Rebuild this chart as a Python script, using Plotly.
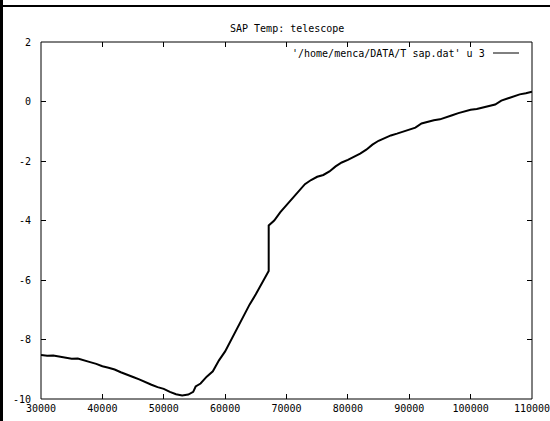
import plotly.graph_objects as go

# Telescope temperature samples: column 1 (time) vs column 3 (temperature)
time_s = [
    30000, 31000, 32000, 33000, 34000, 35000, 36000, 37000, 38000, 39000,
    40000, 41000, 42000, 43000, 44000, 45000, 46000, 47000, 48000, 49000,
    50000, 51000, 52000, 53000, 54000, 54800, 55200, 56000, 57000, 58000,
    59000, 60000, 61000, 62000, 63000, 64000, 65000, 66000, 67100, 67100,
    68000, 69000, 70000, 71000, 72000, 73000, 74000, 75000, 76000, 77000,
    78000, 79000, 80000, 81000, 82000, 83000, 84000, 85000, 86000, 87000,
    88000, 89000, 90000, 91000, 92000, 93000, 94000, 95000, 96000, 97000,
    98000, 99000, 100000, 101000, 102000, 103000, 104000, 105000, 106000,
    107000, 108000, 109000, 110000,
]
temp_c = [
    -8.52, -8.55, -8.54, -8.58, -8.62, -8.65, -8.64, -8.71, -8.76, -8.82,
    -8.90, -8.95, -9.01, -9.10, -9.17, -9.26, -9.34, -9.44, -9.52, -9.60,
    -9.66, -9.76, -9.84, -9.88, -9.85, -9.76, -9.58, -9.48, -9.25, -9.07,
    -8.70, -8.40, -8.00, -7.62, -7.20, -6.82, -6.48, -6.12, -5.70, -4.17,
    -4.00, -3.72, -3.48, -3.26, -3.00, -2.78, -2.64, -2.53, -2.47, -2.35,
    -2.18, -2.05, -1.96, -1.86, -1.75, -1.62, -1.45, -1.32, -1.22, -1.14,
    -1.08, -1.02, -0.95, -0.88, -0.74, -0.68, -0.63, -0.60, -0.54, -0.46,
    -0.39, -0.33, -0.28, -0.25, -0.20, -0.16, -0.10, 0.03, 0.10,
    0.18, 0.24, 0.28, 0.33,
]

x_ticks = [30000, 40000, 50000, 60000, 70000, 80000, 90000, 100000, 110000]
y_ticks = [-10, -8, -6, -4, -2, 0, 2]

title_text = "SAP Temp: telescope"
key_text = "'/home/menca/DATA/T sap.dat' u 3"

W, H = 550, 421
L, R, T, B = 41, 18, 42, 22
FONT = "DejaVu Sans Mono"
FS = 10

fig = go.Figure()
fig.add_trace(go.Scatter(
    x=time_s, y=temp_c, mode="lines",
    line=dict(color="black", width=2),
    showlegend=False,
))

axis_common = dict(
    showgrid=False, zeroline=False, automargin=False,
    showline=False, mirror="ticks",
    ticks="inside", ticklen=5, tickcolor="black", tickwidth=1,
    ticklabeloverflow="allow",
    tickfont=dict(family=FONT, size=FS, color="black"),
)

fig.update_layout(
    width=W, height=H,
    margin=dict(l=L, r=R, t=T, b=B, autoexpand=False),
    paper_bgcolor="white", plot_bgcolor="white",
    xaxis=dict(range=[30000, 110000], tickvals=x_ticks,
               ticktext=[str(v) for v in x_ticks],
               ticklabelstandoff=2, **axis_common),
    yaxis=dict(range=[-10, 2], tickvals=y_ticks,
               ticktext=[str(v) for v in y_ticks],
               ticklabelstandoff=9, **axis_common),
    font=dict(family=FONT, size=FS, color="black"),
)

plot_w = W - L - R
plot_h = H - T - B

# plot frame
fig.add_shape(
    type="rect", xref="paper", yref="paper", x0=0, x1=1, y0=0, y1=1,
    line=dict(color="black", width=1), fillcolor="rgba(0,0,0,0)",
    layer="above",
)

# title
fig.add_annotation(
    text=title_text, xref="paper", yref="paper",
    x=0.5, y=1 + 13 / plot_h, xanchor="center", yanchor="middle",
    showarrow=False, font=dict(family=FONT, size=FS, color="black"),
)

# key: label on the left, line sample on the right
key_y = 1 - 11 / plot_h
fig.add_annotation(
    text=key_text, xref="paper", yref="paper",
    x=(487 - L) / plot_w, y=key_y, xanchor="right", yanchor="middle",
    showarrow=False, font=dict(family=FONT, size=FS, color="black"),
)
fig.add_shape(
    type="line", xref="paper", yref="paper",
    x0=(493 - L) / plot_w, x1=(519 - L) / plot_w, y0=key_y, y1=key_y,
    line=dict(color="black", width=1),
)

# window frame edges
fig.add_shape(
    type="rect", xref="paper", yref="paper",
    x0=-L / plot_w, x1=(3 - L) / plot_w,
    y0=-B / plot_h, y1=(H - B) / plot_h,
    fillcolor="black", line=dict(width=0), layer="above",
)
fig.add_shape(
    type="rect", xref="paper", yref="paper",
    x0=-L / plot_w, x1=(W - L) / plot_w,
    y0=(H - B - 7) / plot_h, y1=(H - B - 5) / plot_h,
    fillcolor="black", line=dict(width=0), layer="above",
)

fig.write_html("out.html")
